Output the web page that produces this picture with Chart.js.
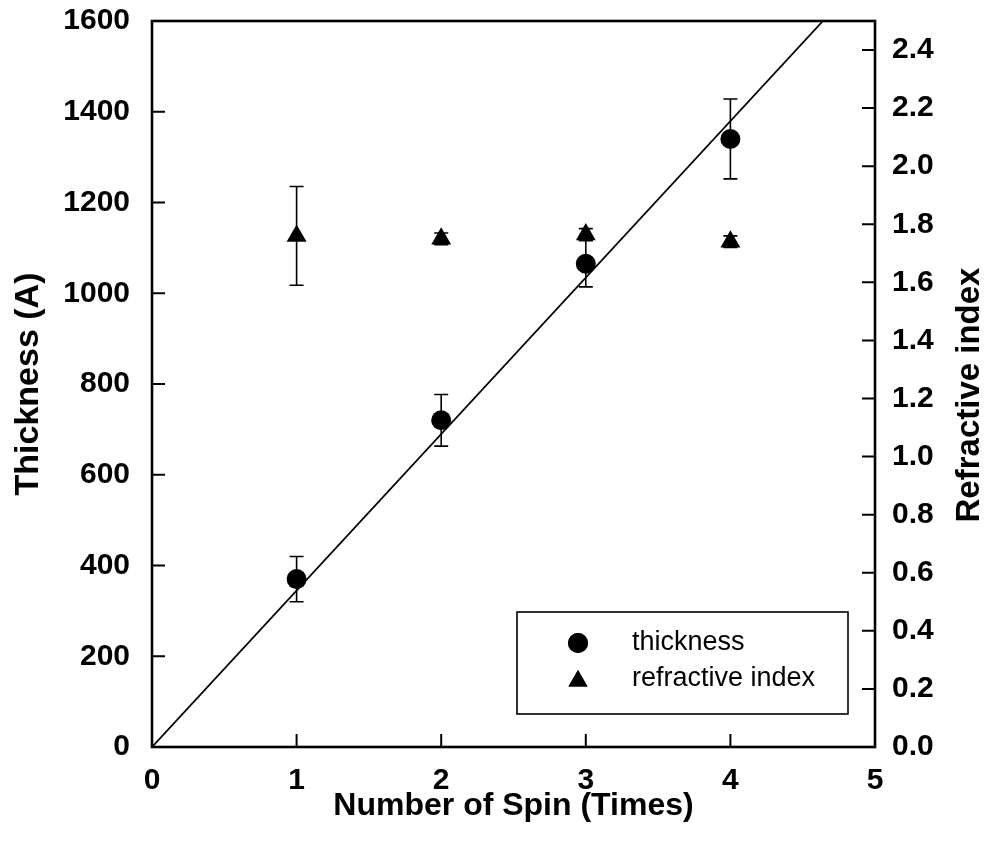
<!DOCTYPE html>
<html>
<head>
<meta charset="utf-8">
<script src="https://cdn.jsdelivr.net/npm/chart.js@4.4.1/dist/chart.umd.min.js"></script>
<style>
  html, body { margin: 0; padding: 0; background: #fff; }
</style>
</head>
<body>
<canvas id="myChart" width="990" height="855"></canvas>
<script>
// data
const spins = [1, 2, 3, 4];
const thickness = [370, 720, 1065, 1340];
const thicknessErr = [50, 57, 51, 88];
const refIndex = [1.76, 1.75, 1.765, 1.74];
const refIndexErr = [0.17, 0.02, 0.02, 0.02];
// linear fit through origin, drawn up to the top of the frame
const fitX = [0, 4.64];
const fitY = [0, 1600];

const xTicks = [0, 1, 2, 3, 4, 5];
const leftTicks = [0, 200, 400, 600, 800, 1000, 1200, 1400, 1600];
const rightTicks = [0, 0.2, 0.4, 0.6, 0.8, 1.0, 1.2, 1.4, 1.6, 1.8, 2.0, 2.2, 2.4];

const FONT = "'Liberation Sans', Arial, sans-serif";

function toPoints(xs, ys) {
  return xs.map((x, i) => ({x: x, y: ys[i]}));
}

function noPad(s) {
  s.paddingTop = 0; s.paddingBottom = 0;
  s.paddingLeft = 0; s.paddingRight = 0;
}

const errorBars = {
  id: 'errorBars',
  beforeDatasetsDraw(chart) {
    const ctx = chart.ctx;
    const xs = chart.scales.x;
    ctx.save();
    ctx.strokeStyle = '#000';
    ctx.lineWidth = 1.6;
    chart.data.datasets.forEach(ds => {
      if (!ds.errors) return;
      const ys = chart.scales[ds.yAxisID];
      ds.data.forEach((p, i) => {
        const px = xs.getPixelForValue(p.x);
        const top = ys.getPixelForValue(p.y + ds.errors[i]);
        const bot = ys.getPixelForValue(p.y - ds.errors[i]);
        ctx.beginPath();
        ctx.moveTo(px, top); ctx.lineTo(px, bot);
        ctx.moveTo(px - 7, top); ctx.lineTo(px + 7, top);
        ctx.moveTo(px - 7, bot); ctx.lineTo(px + 7, bot);
        ctx.stroke();
      });
    });
    ctx.restore();
  }
};

const frame = {
  id: 'frame',
  afterDraw(chart) {
    const ctx = chart.ctx;
    const a = chart.chartArea;
    const len = 13;
    ctx.save();
    ctx.strokeStyle = '#000';
    ctx.lineWidth = 2;
    ctx.beginPath();
    chart.scales.x.ticks.forEach(t => {
      const px = chart.scales.x.getPixelForValue(t.value);
      if (t.value === 0 || t.value === 5) return;
      ctx.moveTo(px, a.bottom); ctx.lineTo(px, a.bottom - len);
    });
    chart.scales.y.ticks.forEach(t => {
      const py = chart.scales.y.getPixelForValue(t.value);
      ctx.moveTo(a.left, py); ctx.lineTo(a.left + len, py);
    });
    chart.scales.y2.ticks.forEach(t => {
      const py = chart.scales.y2.getPixelForValue(t.value);
      ctx.moveTo(a.right, py); ctx.lineTo(a.right - len, py);
    });
    ctx.stroke();
    ctx.lineWidth = 2.6;
    ctx.strokeRect(a.left, a.top, a.right - a.left, a.bottom - a.top);

    // legend box
    const bw = 331, bh = 102;
    const bx = a.right - 27 - bw, by = a.bottom - 33 - bh;
    ctx.lineWidth = 1.6;
    ctx.strokeRect(bx, by, bw, bh);
    ctx.font = '27px ' + FONT;
    ctx.fillStyle = '#000';
    ctx.textBaseline = 'middle';
    ctx.textAlign = 'left';
    [0, 1].forEach(i => {
      const ds = chart.data.datasets[i];
      const cy = by + 31 + i * 36;
      Chart.helpers.drawPoint(ctx, {
        pointStyle: ds.pointStyle, radius: i === 0 ? 10 : 11, borderWidth: 0, rotation: 0
      }, bx + 61, cy + (i === 1 ? 2 : 0));
      ctx.fill();
      ctx.fillText(ds.label, bx + 115, cy);
    });

    // right axis title, reading bottom to top
    ctx.font = 'bold 33px ' + FONT;
    ctx.textAlign = 'center';
    ctx.translate(970, 395);
    ctx.rotate(-Math.PI / 2);
    ctx.fillText('Refractive index', 0, 0);
    ctx.restore();
  }
};

const ctx = document.getElementById('myChart').getContext('2d');
const myChart = new Chart(ctx, {
  type: 'scatter',
  data: {
    datasets: [
      {
        label: 'thickness',
        data: toPoints(spins, thickness),
        errors: thicknessErr,
        yAxisID: 'y',
        pointStyle: 'circle',
        pointRadius: 10,
        backgroundColor: '#000',
        borderColor: '#000',
        borderWidth: 0
      },
      {
        label: 'refractive index',
        data: toPoints(spins, refIndex),
        errors: refIndexErr,
        yAxisID: 'y2',
        pointStyle: 'triangle',
        pointRadius: 11.5,
        backgroundColor: '#000',
        borderColor: '#000',
        borderWidth: 0
      },
      {
        type: 'line',
        label: 'fit',
        data: toPoints(fitX, fitY),
        yAxisID: 'y',
        borderColor: '#000',
        borderWidth: 1.8,
        pointRadius: 0,
        fill: false
      }
    ]
  },
  options: {
    responsive: false,
    animation: false,
    layout: { padding: { top: 21, left: 0, right: 0, bottom: 0 } },
    plugins: {
      legend: { display: false },
      tooltip: { enabled: false }
    },
    scales: {
      x: {
        type: 'linear',
        min: 0, max: 5,
        grid: { display: false },
        border: { display: false },
        afterBuildTicks: s => { s.ticks = xTicks.map(v => ({value: v})); },
        afterFit: s => { s.height = 108; noPad(s); },
        ticks: {
          color: '#000', padding: 8,
          font: { family: FONT, size: 30, weight: 'bold' },
          callback: v => String(v)
        },
        title: {
          display: true, text: 'Number of Spin (Times)', color: '#000',
          padding: { top: 0, bottom: 30 },
          font: { family: FONT, size: 32, weight: 'bold' }
        }
      },
      y: {
        type: 'linear', position: 'left',
        min: 0, max: 1600,
        grid: { display: false },
        border: { display: false },
        afterBuildTicks: s => { s.ticks = leftTicks.map(v => ({value: v})); },
        afterFit: s => { s.width = 152; noPad(s); },
        ticks: {
          color: '#000', padding: 14,
          font: { family: FONT, size: 30, weight: 'bold' },
          callback: v => String(v)
        },
        title: {
          display: true, text: 'Thickness (A)', color: '#000',
          padding: { top: 8, bottom: 0 },
          font: { family: FONT, size: 34, weight: 'bold' }
        }
      },
      y2: {
        type: 'linear', position: 'right',
        min: 0, max: 2.5,
        grid: { display: false },
        border: { display: false },
        afterBuildTicks: s => { s.ticks = rightTicks.map(v => ({value: v})); },
        afterFit: s => { s.width = 115; noPad(s); },
        ticks: {
          color: '#000', padding: 9,
          font: { family: FONT, size: 30, weight: 'bold' },
          callback: v => Number(v).toFixed(1)
        }
      }
    }
  },
  plugins: [errorBars, frame]
});
</script>
</body>
</html>
